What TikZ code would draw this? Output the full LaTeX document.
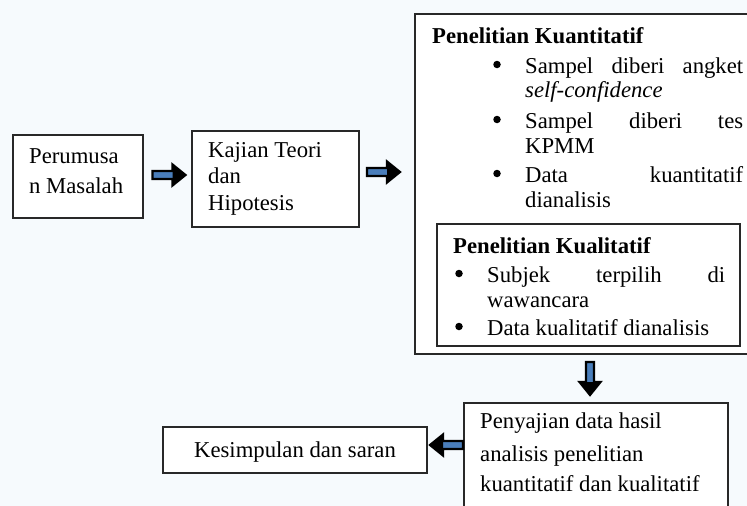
\documentclass[tikz,border=0pt]{standalone}
\usepackage{fontspec}
\setmainfont{Liberation Serif}
\definecolor{bgc}{RGB}{246,250,253}
\definecolor{arrowblue}{RGB}{74,126,187}
\definecolor{boxline}{RGB}{40,40,40}
\begin{document}
\begin{tikzpicture}[x=1pt,y=-1pt,
  box/.style={draw=boxline, line width=1.4pt, fill=white, inner sep=0pt},
  txt/.style={anchor=base west, inner sep=0pt, font=\fontsize{22.7}{27}\selectfont},
  ctxt/.style={anchor=base, inner sep=0pt, font=\fontsize{22.7}{27}\selectfont},
  bul/.style={circle, fill=black, inner sep=0pt, minimum size=7.5pt},
  blockarrow/.pic={\draw[line width=2.2pt, fill=arrowblue, line join=miter]
     (0,-4) -- (20,-4) -- (20,-10.5) -- (33,0) -- (20,10.5) -- (20,4) -- (0,4) -- cycle;
     \fill[black] (20,-10.5) -- (33,0) -- (20,10.5) -- cycle;}
]
\useasboundingbox (0,0) rectangle (747,506);
\clip (0,0) rectangle (747,506);
\fill[bgc] (0,0) rectangle (747,506);

% boxes
\node[box, minimum width=130pt, minimum height=83pt] (b1) at (78,176.5) {};
\node[box, minimum width=167pt, minimum height=96pt] (b2) at (275.5,179) {};
\node[box, minimum width=345pt, minimum height=340pt] (big) at (587.5,184) {};
\node[box, minimum width=303pt, minimum height=122pt] (inner) at (588.5,285) {};
\node[box, minimum width=264pt, minimum height=120pt] (b4) at (596,463) {};
\node[box, minimum width=264pt, minimum height=46pt] (b5) at (295,450) {};

% texts box 1
\node[txt] (t11) at (29,163) {Perumusa};
\node[txt] (t12) at (29,193) {n Masalah};
% texts box 2
\node[txt] (t21) at (208,157) {Kajian Teori};
\node[txt] (t22) at (208,183) {dan};
\node[txt] (t23) at (208,210) {Hipotesis};

% Kuantitatif
\node[txt] (q0) at (432,43) {\bfseries Penelitian Kuantitatif};
\node[bul] (qb1) at (497,64.5) {};
\node[txt] (q1) at (525,73) {\makebox[218pt][s]{Sampel diberi angket}};
\node[txt] (q2) at (525,97) {\itshape self-confidence};
\node[bul] (qb2) at (497,119.5) {};
\node[txt] (q3) at (525,128) {\makebox[218pt][s]{Sampel diberi tes}};
\node[txt] (q4) at (525,153) {KPMM};
\node[bul] (qb3) at (497,173.5) {};
\node[txt] (q5) at (525,182) {\makebox[218pt][s]{Data kuantitatif}};
\node[txt] (q6) at (525,207) {dianalisis};

% Kualitatif
\node[txt] (k0) at (453,253) {\bfseries Penelitian Kualitatif};
\node[bul] (kb1) at (459,273.5) {};
\node[txt] (k1) at (487,282) {\makebox[238pt][s]{Subjek terpilih di}};
\node[txt] (k2) at (487,307) {wawancara};
\node[bul] (kb2) at (459,326.5) {};
\node[txt] (k3) at (487,335) {Data kualitatif dianalisis};

% Penyajian
\node[txt] (p1) at (480,428) {Penyajian data hasil};
\node[txt] (p2) at (480,461) {analisis penelitian};
\node[txt] (p3) at (480,491) {kuantitatif dan kualitatif};

% Kesimpulan
\node[ctxt] (s1) at (295,457) {Kesimpulan dan saran};

% block arrows
\pic at (152.5,175) {blockarrow};
\pic at (367,172) {blockarrow};
\pic[rotate=-90] at (590,362) {blockarrow};
\pic[rotate=180] at (463,445) {blockarrow};
\end{tikzpicture}
\end{document}
